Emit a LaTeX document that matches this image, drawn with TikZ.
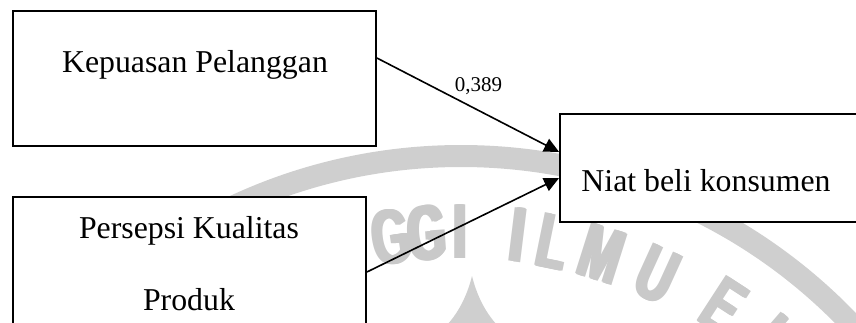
\documentclass[tikz,border=0pt]{standalone}
\usepackage{fontspec}
\setmainfont{Liberation Serif}
\newfontfamily\wmfont{Liberation Sans}
\usetikzlibrary{arrows.meta,calc}
\newcommand\wmcopy[2]{\makebox[0pt][c]{\kern#2#1}}
\newcommand\wmthick[1]{\scalebox{0.62}[1]{\wmcopy{#1}{-7pt}\wmcopy{#1}{-3.5pt}\wmcopy{#1}{0pt}\wmcopy{#1}{3.5pt}\wmcopy{#1}{7pt}}}
\begin{document}
\begin{tikzpicture}[x=1pt,y=-1pt,
  box/.style={draw=black, line width=1.8pt, fill=white, rectangle, inner sep=0pt},
  boxtext/.style={font=\fontsize{31.8}{38}\selectfont, anchor=base, inner sep=0pt},
  coef/.style={font=\fontsize{21}{25}\selectfont, anchor=base, inner sep=0pt},
  conn/.style={draw=black, line width=1.6pt, -{Triangle[length=15pt,width=14pt]}},
  wmring/.style={draw=black!19, line width=22pt},
  wmletter/.style={text=black!21, font=\wmfont\bfseries\fontsize{78}{78}\selectfont, inner sep=0pt},
  wmspike/.style={fill=black!19, draw=none}
]
\useasboundingbox (0,0) rectangle (856,322);
\clip (0,0) rectangle (856,322);
% watermark
\draw[wmring] (461,693) circle[radius=537pt];
\node[wmletter, rotate=8.5]  (w1) at (391,237) {\wmthick{G}};
\node[wmletter, rotate=4]    (w2) at (427,233) {\wmthick{G}};
\node[wmletter, rotate=0]    (w3) at (460,232) {\wmthick{I}};
\node[wmletter, rotate=-7]   (w4) at (518,235) {\wmthick{I}};
\node[wmletter, rotate=-11.5](w5) at (553,242) {\wmthick{L}};
\node[wmletter, rotate=-17.5](w6) at (602,254) {\wmthick{M}};
\node[wmletter, rotate=-24.5](w7) at (657,275) {\wmthick{U}};
\node[wmletter, rotate=-33]  (w8) at (724,306) {\wmthick{E}};
\node[wmletter, rotate=-41]  (w9) at (776,343) {\wmthick{K}};
\fill[wmspike] (472,276) .. controls (466,300) and (456,315) .. (447,325) -- (497,325) .. controls (488,315) and (478,300) .. (472,276);
% boxes
\node[box, minimum width=363pt, minimum height=135pt] (k) at (194.5,78.5) {};
\node[box, minimum width=353pt, minimum height=153pt] (p) at (189.5,273.5) {};
\node[box, minimum width=320pt, minimum height=108pt] (n) at (720,168) {};
% texts
\node[boxtext] (kt) at (195,72) {Kepuasan Pelanggan};
\node[boxtext] (pt1) at (189,238) {Persepsi Kualitas};
\node[boxtext] (pt2) at (189,310) {Produk};
\node[boxtext] (nt) at (706,191) {Niat beli konsumen};
% connectors
\draw[conn] ([yshift=20.5pt]k.east) -- ([yshift=16pt]n.west);
\draw[conn] ([yshift=1.5pt]p.east) -- ([yshift=-10pt]n.west);
\node[coef] (c) at (478.5,91) {0,389};
\end{tikzpicture}
\end{document}
